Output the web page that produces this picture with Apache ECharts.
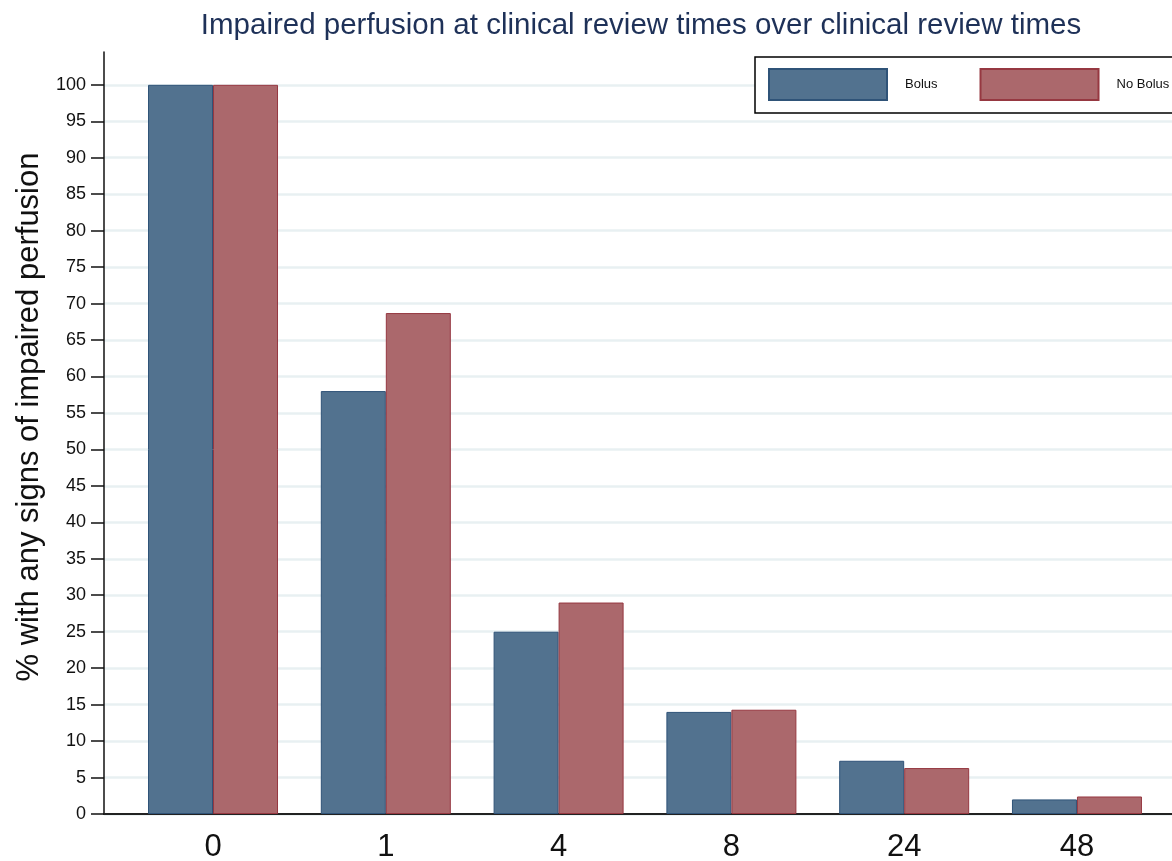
<!DOCTYPE html>
<html>
<head>
<meta charset="utf-8">
<script src="https://cdn.jsdelivr.net/npm/echarts@6/dist/echarts.min.js"></script>
<style>
html,body{margin:0;padding:0;background:#fff;}
#chart{width:1172px;height:861px;}
</style>
</head>
<body>
<div id="chart"></div>
<script>
var categories = ['0', '1', '4', '8', '24', '48'];
var bolus = [100, 58, 25, 14, 7.3, 2];
var noBolus = [100, 68.7, 29, 14.3, 6.3, 2.4];
var yTicks = [0,5,10,15,20,25,30,35,40,45,50,55,60,65,70,75,80,85,90,95,100];
var catIndex = categories.map(function (c, i) { return i; });

var font = '"Liberation Sans", Arial, sans-serif';

function pairs(arr) { return arr.map(function (v, i) { return [i, v]; }); }

var chart = echarts.init(document.getElementById('chart'));
chart.setOption({
  backgroundColor: '#ffffff',
  animation: false,
  title: {
    text: 'Impaired perfusion at clinical review times over clinical review times',
    left: 641,
    top: 11,
    padding: 0,
    textAlign: 'center',
    textStyle: { fontFamily: font, fontSize: 29.5, fontWeight: 'normal', color: '#1e3158' }
  },
  legend: {
    orient: 'horizontal',
    left: 755,
    top: 57,
    width: 440,
    padding: [11, 20, 12, 13],
    itemWidth: 118,
    itemHeight: 31,
    itemGap: 42,
    backgroundColor: '#ffffff',
    borderColor: '#000000',
    borderWidth: 1.5,
    borderRadius: 0,
    textStyle: { fontFamily: font, fontSize: 13, color: '#111', padding: [0, 0, 0, 13] },
    data: [
      { name: 'Bolus', icon: 'rect' },
      { name: 'No Bolus', icon: 'rect' }
    ]
  },
  grid: { left: 104, right: 0, top: 52, bottom: 47, containLabel: false, outerBoundsMode: 'none' },
  xAxis: {
    type: 'value',
    min: -0.631,
    max: 5.55,
    splitLine: { show: false },
    axisLine: { show: true, onZero: false, lineStyle: { color: '#222', width: 2 } },
    axisTick: { show: false },
    axisLabel: {
      customValues: catIndex,
      formatter: function (v) { return categories[Math.round(v)]; },
      fontFamily: font, fontSize: 31, color: '#111', margin: 18
    }
  },
  yAxis: {
    type: 'value',
    min: 0,
    max: 104.5,
    interval: 5,
    name: '% with any signs of impaired perfusion',
    nameLocation: 'middle',
    nameGap: 50,
    nameTextStyle: { fontFamily: font, fontSize: 31, color: '#111', padding: [0, 0, 0, 32] },
    axisLine: { show: true, onZero: false, lineStyle: { color: '#111', width: 1.5 } },
    axisTick: { show: true, customValues: yTicks, length: 13, lineStyle: { color: '#111', width: 1.5 } },
    axisLabel: { customValues: yTicks, fontFamily: font, fontSize: 18, color: '#111', margin: 18 },
    splitLine: { show: true, lineStyle: { color: '#e8f0f2', width: 2.5 } }
  },
  series: [
    {
      name: 'Bolus',
      type: 'bar',
      data: pairs(bolus),
      barWidth: 65,
      barGap: '0%',
      itemStyle: { color: '#52728f', borderColor: '#2f5378', borderWidth: 1 }
    },
    {
      name: 'No Bolus',
      type: 'bar',
      data: pairs(noBolus),
      barWidth: 65,
      barGap: '0%',
      itemStyle: { color: '#ab686c', borderColor: '#963841', borderWidth: 1 }
    }
  ]
});
</script>
</body>
</html>
